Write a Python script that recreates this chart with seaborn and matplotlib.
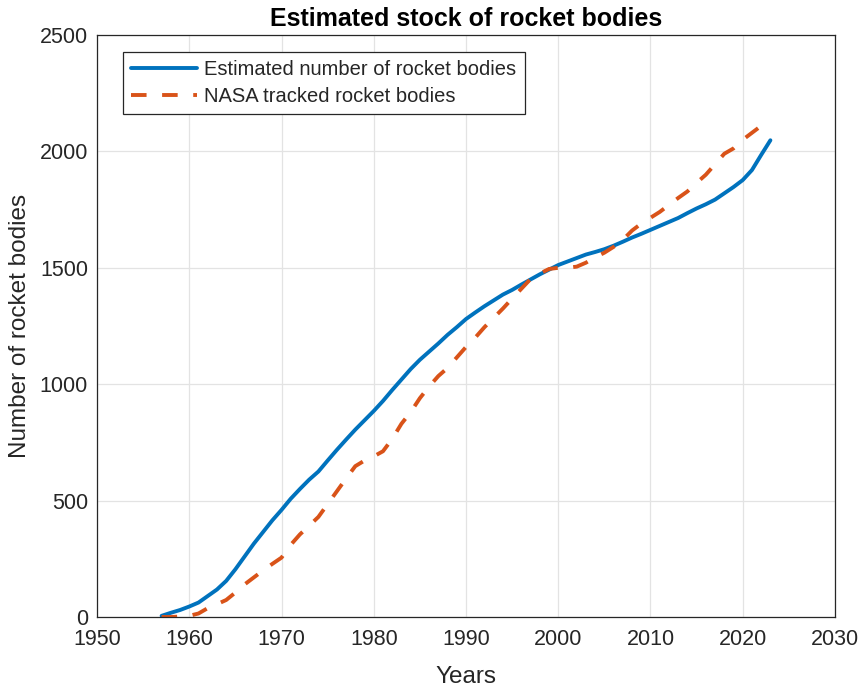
import numpy as np
import pandas as pd
import matplotlib
matplotlib.use("Agg")
import matplotlib.pyplot as plt
import seaborn as sns

years = list(range(1957, 2024))
estimated = [5, 18, 30, 45, 62, 90, 118, 155, 205, 260, 315, 365, 415, 460, 508, 550,
             590, 625, 672, 718, 762, 805, 845, 885, 928, 975, 1020, 1065, 1105, 1140,
             1175, 1212, 1245, 1280, 1308, 1335, 1360, 1385, 1405, 1428, 1450, 1472,
             1492, 1512, 1527, 1542, 1557, 1568, 1580, 1595, 1612, 1630, 1646, 1663,
             1680, 1697, 1714, 1735, 1755, 1773, 1793, 1820, 1847, 1877, 1920, 1985, 2048]
nasa = [0, 0, 2, 5, 15, 38, 55, 73, 105, 140, 170, 200, 228, 255, 310, 355, 392, 430,
        485, 540, 595, 648, 672, 690, 712, 765, 830, 880, 940, 990, 1035, 1070, 1115,
        1160, 1200, 1245, 1285, 1325, 1368, 1410, 1452, 1475, 1495, 1500, 1500, 1505,
        1522, 1545, 1565, 1590, 1620, 1660, 1690, 1715, 1740, 1770, 1800, 1828, 1865,
        1900, 1945, 1990, 2013, 2050, 2080, 2110, 2130]
series_names = ["Estimated number of rocket bodies", "NASA tracked rocket bodies"]
x_ticks = [1950, 1960, 1970, 1980, 1990, 2000, 2010, 2020, 2030]
y_ticks = [0, 500, 1000, 1500, 2000, 2500]

sns.set_theme(style="whitegrid")
plt.rcParams['font.family'] = ['Liberation Sans', 'DejaVu Sans']

fig = plt.figure(figsize=(8.64, 6.87), dpi=100)
ax = fig.add_axes([0.1123, 0.1019, 0.8541, 0.8471])

sns.lineplot(x=years, y=estimated, ax=ax, color="#0072BD", linewidth=2.8,
             label=series_names[0])
sns.lineplot(x=years, y=nasa, ax=ax, color="#D95319", linewidth=2.8,
             linestyle=(0, (4, 4)), label=series_names[1])

ax.set_xlim(1950, 2030)
ax.set_ylim(0, 2500)
ax.set_xticks(x_ticks)
ax.set_yticks(y_ticks)
ax.tick_params(axis='both', labelsize=15.5, colors="#262626", direction='in',
               length=5, width=0.8)
ax.tick_params(axis='x', pad=9)
ax.tick_params(axis='y', pad=6.5)
ax.grid(True, color="#e3e3e3", linewidth=0.9)
for s in ax.spines.values():
    s.set_color("#262626")
    s.set_linewidth(0.9)
ax.set_facecolor("white")

ax.set_xlabel("Years", fontsize=17.5, color="#262626", labelpad=11)
ax.set_ylabel("Number of rocket bodies", fontsize=17.5, color="#262626", labelpad=6)
ax.set_title("Estimated stock of rocket bodies", fontsize=18, fontweight="bold",
             color="black", pad=6.5)

leg = ax.legend(loc="upper left", bbox_to_anchor=(0.035, 0.971), fontsize=14.5,
                frameon=True, fancybox=False, framealpha=1, edgecolor="#262626",
                handlelength=3.3, borderpad=0.4, labelspacing=0.38,
                handletextpad=0.35, borderaxespad=0)
leg.get_frame().set_linewidth(0.9)

fig.savefig("out.png", dpi=100)
